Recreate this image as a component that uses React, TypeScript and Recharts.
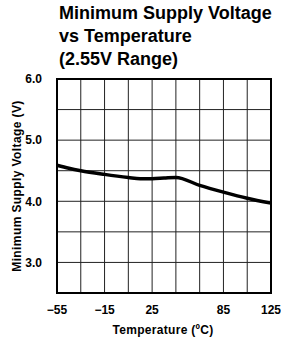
import React from 'react';
import { LineChart, Line, XAxis, YAxis, CartesianGrid, ReferenceArea } from 'recharts';

const temperatures = [-55, -45, -35, -15, 5, 15, 25, 35, 45, 65, 85, 105, 125];
const minSupplyVoltage = [4.59, 4.54, 4.5, 4.44, 4.39, 4.37, 4.37, 4.38, 4.39, 4.26, 4.15, 4.05, 3.97];
const xGridTicks = [-55, -35, -15, 5, 25, 45, 65, 85, 105, 125];
const xLabelTicks = [-55, -15, 25, 85, 125];
const yGridTicks = [2.5, 3, 3.5, 4, 4.5, 5, 5.5, 6];
const yLabelTicks = [3, 4, 5, 6];
const titleLines = ['Minimum Supply Voltage', 'vs Temperature', '(2.55V Range)'];

const data = temperatures.map((t, i) => ({ t, v: minSupplyVoltage[i] }));

const font = 'Liberation Sans, Arial, sans-serif';

export default function App() {
  return (
    <div style={{ position: 'absolute', left: 0, top: 0, width: 281, height: 344, background: '#fff', fontFamily: font }}>
      <div style={{ position: 'absolute', left: 59, top: 2, fontSize: 18, lineHeight: '23px', fontWeight: 700, color: '#000', whiteSpace: 'nowrap' }}>
        {titleLines.map((l) => (
          <div key={l}>{l}</div>
        ))}
      </div>
      <LineChart width={281} height={344} data={data} margin={{ top: 79, right: 10, bottom: 21, left: 17 }}>
        <CartesianGrid stroke="#222" strokeWidth={1} />
        <XAxis
          dataKey="t"
          type="number"
          domain={[-55, 125]}
          ticks={xGridTicks}
          interval={0}
          height={30}
          axisLine={false}
          tickLine={false}
          tickSize={0}
          tickMargin={12}
          tick={{ fill: '#000', fontSize: 12, fontWeight: 700, fontFamily: font }}
          tickFormatter={(v: number) => (xLabelTicks.includes(v) ? String(v).replace('-', '\u2212') : '')}
        />
        <YAxis
          type="number"
          domain={[2.5, 6]}
          ticks={yGridTicks}
          interval={0}
          width={40}
          axisLine={false}
          tickLine={false}
          tickSize={0}
          tickMargin={15}
          tick={{ fill: '#000', fontSize: 12, fontWeight: 700, fontFamily: font }}
          tickFormatter={(v: number) => (yLabelTicks.includes(v) ? v.toFixed(1) : '')}
        />
        <ReferenceArea x1={-55} x2={125} y1={2.5} y2={6} fill="none" stroke="#000" strokeWidth={2} ifOverflow="visible" />
        <Line type="monotone" dataKey="v" stroke="#000" strokeWidth={3.5} dot={false} isAnimationActive={false} />
      </LineChart>
      <div style={{ position: 'absolute', left: 17, top: 186, width: 0, height: 0 }}>
        <div style={{ position: 'absolute', transform: 'translate(-50%, -50%) rotate(-90deg)', fontSize: 12, letterSpacing: '0.4px', fontWeight: 700, whiteSpace: 'nowrap', color: '#000' }}>
          Minimum Supply Voltage (V)
        </div>
      </div>
      <div style={{ position: 'absolute', left: 163, top: 330, width: 0, height: 0 }}>
        <div style={{ position: 'absolute', transform: 'translate(-50%, -50%)', fontSize: 12, letterSpacing: '0.3px', fontWeight: 700, whiteSpace: 'nowrap', color: '#000' }}>
          Temperature (ºC)
        </div>
      </div>
    </div>
  );
}
